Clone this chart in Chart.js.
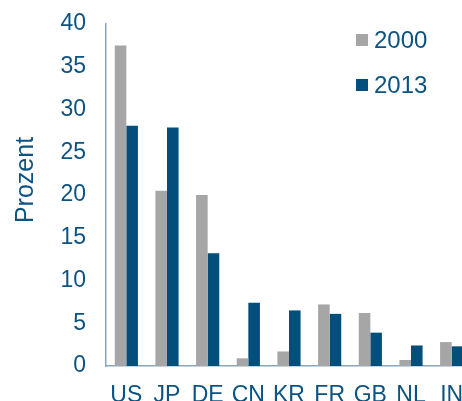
<!DOCTYPE html>
<html>
<head>
<meta charset="utf-8">
<script src="https://cdn.jsdelivr.net/npm/chart.js@4/dist/chart.umd.min.js"></script>
<style>
  html, body { margin: 0; padding: 0; background: #fff; overflow: hidden; }
  #wrap { width: 476px; height: 401px; }
</style>
</head>
<body>
<div id="wrap"><canvas id="myChart" width="476" height="401"></canvas></div>
<script>
// Daten
const laender = ['US', 'JP', 'DE', 'CN', 'KR', 'FR', 'GB', 'NL', 'IN'];
const werte2000 = [37.5, 20.5, 20.0, 0.9, 1.7, 7.2, 6.2, 0.7, 2.8];
const werte2013 = [28.1, 27.9, 13.2, 7.4, 6.5, 6.1, 3.9, 2.4, 2.3];
const yTicks = [0, 5, 10, 15, 20, 25, 30, 35, 40];
const achsenTitel = 'Prozent';

const textFarbe = '#0c5382';
const achsenFarbe = '#87a7c0';
const schrift = 'Liberation Sans, Arial, sans-serif';

// Legende oben rechts und Achsentitel
const beschriftungPlugin = {
    id: 'beschriftung',
    afterDraw(chart) {
        const c = chart.ctx;
        c.save();
        c.font = '24px ' + schrift;
        c.textBaseline = 'middle';
        chart.data.datasets.forEach((ds, i) => {
            const y = 40 + i * 45;
            c.fillStyle = ds.backgroundColor;
            c.fillRect(356, y - 6, 12, 12);
            c.fillStyle = textFarbe;
            c.fillText(ds.label, 374, y + 1);
        });
        // y-Achsentitel
        c.translate(25, 180);
        c.rotate(-Math.PI / 2);
        c.textAlign = 'center';
        c.font = '25px ' + schrift;
        c.fillText(achsenTitel, 0, 1);
        c.restore();
    }
};

const ctx = document.getElementById('myChart');
const myChart = new Chart(ctx, {
    type: 'bar',
    data: {
        labels: laender,
        datasets: [
            { label: '2000', data: werte2000, backgroundColor: '#a6a6a6' },
            { label: '2013', data: werte2013, backgroundColor: '#024f7b' }
        ]
    },
    options: {
        responsive: false,
        animation: false,
        layout: { padding: { top: 24, right: 4, left: 0, bottom: 0 } },
        datasets: { bar: { barPercentage: 1, categoryPercentage: 0.57 } },
        plugins: { legend: { display: false }, tooltip: { enabled: false } },
        scales: {
            x: {
                grid: { display: false, drawTicks: false },
                border: { color: achsenFarbe, width: 1.5 },
                ticks: { color: textFarbe, font: { size: 23, family: schrift }, padding: 16, maxRotation: 0, autoSkip: false },
                afterFit: s => { s.height = 35; s.paddingLeft = 0; s.paddingRight = 0; }
            },
            y: {
                min: 0,
                max: 40,
                afterBuildTicks: s => { s.ticks = yTicks.map(v => ({ value: v })); },
                grid: { display: false, drawTicks: false },
                border: { color: achsenFarbe, width: 1.5 },
                ticks: { color: textFarbe, font: { size: 23, family: schrift }, padding: 20 },
                afterFit: s => { s.width = 106; s.paddingTop = 0; s.paddingBottom = 0; }
            }
        }
    },
    plugins: [beschriftungPlugin]
});
</script>
</body>
</html>
